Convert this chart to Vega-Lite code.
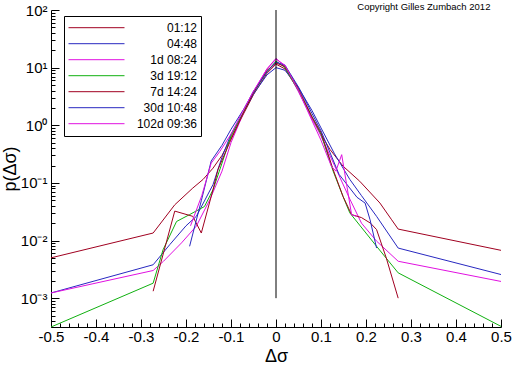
{
  "$schema": "https://vega.github.io/schema/vega-lite/v6.json",
  "width": 450,
  "height": 317,
  "autosize": "none",
  "padding": {"left": 51, "top": 10, "right": 11, "bottom": 39},
  "background": "white",
  "config": {
    "view": {"stroke": null},
    "font": "Liberation Sans",
    "axis": {"domainColor": "black", "tickColor": "black", "labelColor": "black", "titleColor": "black", "labelFont": "Liberation Sans", "titleFont": "Liberation Sans", "grid": false, "labelFontSize": 15, "titleFontWeight": "normal", "titleFontSize": 18, "labelFlush": false, "labelOverlap": false}
  },
  "title": {"text": "Copyright Gilles Zumbach 2012", "anchor": "end", "fontSize": 9.5, "fontWeight": "normal", "font": "Liberation Sans", "color": "black", "offset": -8.5, "dx": -21},
  "datasets": {
    "series": [
      {"s": "01:12", "x": -0.5, "p": 0.00501}, {"s": "01:12", "x": -0.273, "p": 0.0135}, {"s": "01:12", "x": -0.225, "p": 0.0417}, {"s": "01:12", "x": -0.185, "p": 0.0813}, {"s": "01:12", "x": -0.162, "p": 0.115}, {"s": "01:12", "x": -0.14, "p": 0.18}, {"s": "01:12", "x": -0.12, "p": 0.3}, {"s": "01:12", "x": -0.1, "p": 0.6}, {"s": "01:12", "x": -0.07, "p": 1.7}, {"s": "01:12", "x": -0.05, "p": 3.4}, {"s": "01:12", "x": -0.02, "p": 8.0}, {"s": "01:12", "x": 0, "p": 11.5}, {"s": "01:12", "x": 0.02, "p": 9.5}, {"s": "01:12", "x": 0.05, "p": 4.0}, {"s": "01:12", "x": 0.08, "p": 1.3}, {"s": "01:12", "x": 0.1, "p": 0.7}, {"s": "01:12", "x": 0.12, "p": 0.38}, {"s": "01:12", "x": 0.149, "p": 0.195}, {"s": "01:12", "x": 0.186, "p": 0.107}, {"s": "01:12", "x": 0.231, "p": 0.0447}, {"s": "01:12", "x": 0.257, "p": 0.0229}, {"s": "01:12", "x": 0.2715, "p": 0.0158}, {"s": "01:12", "x": 0.5, "p": 0.00676},
      {"s": "04:48", "x": -0.5, "p": 0.00123}, {"s": "04:48", "x": -0.273, "p": 0.0038}, {"s": "04:48", "x": -0.236, "p": 0.0085}, {"s": "04:48", "x": -0.2, "p": 0.018}, {"s": "04:48", "x": -0.177, "p": 0.0263}, {"s": "04:48", "x": -0.14, "p": 0.0933}, {"s": "04:48", "x": -0.12, "p": 0.28}, {"s": "04:48", "x": -0.1, "p": 0.7}, {"s": "04:48", "x": -0.07, "p": 1.8}, {"s": "04:48", "x": -0.05, "p": 3.5}, {"s": "04:48", "x": -0.02, "p": 7.5}, {"s": "04:48", "x": 0, "p": 10}, {"s": "04:48", "x": 0.02, "p": 9.0}, {"s": "04:48", "x": 0.05, "p": 4.5}, {"s": "04:48", "x": 0.08, "p": 1.8}, {"s": "04:48", "x": 0.1, "p": 0.9}, {"s": "04:48", "x": 0.13, "p": 0.32}, {"s": "04:48", "x": 0.164, "p": 0.115}, {"s": "04:48", "x": 0.19, "p": 0.06}, {"s": "04:48", "x": 0.2235, "p": 0.0263}, {"s": "04:48", "x": 0.2715, "p": 0.0074}, {"s": "04:48", "x": 0.5, "p": 0.00257},
      {"s": "1d 08:24", "x": -0.5, "p": 0.00123}, {"s": "1d 08:24", "x": -0.273, "p": 0.00302}, {"s": "1d 08:24", "x": -0.25, "p": 0.00437}, {"s": "1d 08:24", "x": -0.21, "p": 0.0091}, {"s": "1d 08:24", "x": -0.177, "p": 0.0178}, {"s": "1d 08:24", "x": -0.147, "p": 0.0513}, {"s": "1d 08:24", "x": -0.12, "p": 0.16}, {"s": "1d 08:24", "x": -0.1, "p": 0.5}, {"s": "1d 08:24", "x": -0.07, "p": 1.8}, {"s": "1d 08:24", "x": -0.05, "p": 3.8}, {"s": "1d 08:24", "x": -0.02, "p": 9.5}, {"s": "1d 08:24", "x": 0, "p": 14.5}, {"s": "1d 08:24", "x": 0.02, "p": 10.5}, {"s": "1d 08:24", "x": 0.05, "p": 3.8}, {"s": "1d 08:24", "x": 0.08, "p": 1.3}, {"s": "1d 08:24", "x": 0.1, "p": 0.65}, {"s": "1d 08:24", "x": 0.13, "p": 0.2}, {"s": "1d 08:24", "x": 0.164, "p": 0.0525}, {"s": "1d 08:24", "x": 0.19, "p": 0.02}, {"s": "1d 08:24", "x": 0.2235, "p": 0.00977}, {"s": "1d 08:24", "x": 0.2715, "p": 0.00437}, {"s": "1d 08:24", "x": 0.5, "p": 0.00195},
      {"s": "3d 19:12", "x": -0.5, "p": 0.000316}, {"s": "3d 19:12", "x": -0.273, "p": 0.00182}, {"s": "3d 19:12", "x": -0.251, "p": 0.00692}, {"s": "3d 19:12", "x": -0.221, "p": 0.0214}, {"s": "3d 19:12", "x": -0.192, "p": 0.0282}, {"s": "3d 19:12", "x": -0.159, "p": 0.0389}, {"s": "3d 19:12", "x": -0.14, "p": 0.0759}, {"s": "3d 19:12", "x": -0.12, "p": 0.22}, {"s": "3d 19:12", "x": -0.1, "p": 0.65}, {"s": "3d 19:12", "x": -0.07, "p": 1.8}, {"s": "3d 19:12", "x": -0.05, "p": 3.7}, {"s": "3d 19:12", "x": -0.02, "p": 8.5}, {"s": "3d 19:12", "x": 0, "p": 13}, {"s": "3d 19:12", "x": 0.02, "p": 10}, {"s": "3d 19:12", "x": 0.05, "p": 4.0}, {"s": "3d 19:12", "x": 0.08, "p": 1.4}, {"s": "3d 19:12", "x": 0.1, "p": 0.7}, {"s": "3d 19:12", "x": 0.127, "p": 0.16}, {"s": "3d 19:12", "x": 0.149, "p": 0.058}, {"s": "3d 19:12", "x": 0.164, "p": 0.0302}, {"s": "3d 19:12", "x": 0.2235, "p": 0.00794}, {"s": "3d 19:12", "x": 0.2715, "p": 0.00275}, {"s": "3d 19:12", "x": 0.5, "p": 0.000324},
      {"s": "7d 14:24", "x": -0.273, "p": 0.00132}, {"s": "7d 14:24", "x": -0.225, "p": 0.0324}, {"s": "7d 14:24", "x": -0.185, "p": 0.0263}, {"s": "7d 14:24", "x": -0.166, "p": 0.0135}, {"s": "7d 14:24", "x": -0.14, "p": 0.0759}, {"s": "7d 14:24", "x": -0.129, "p": 0.17}, {"s": "7d 14:24", "x": -0.103, "p": 0.5}, {"s": "7d 14:24", "x": -0.07, "p": 1.8}, {"s": "7d 14:24", "x": -0.05, "p": 3.7}, {"s": "7d 14:24", "x": -0.02, "p": 9}, {"s": "7d 14:24", "x": 0, "p": 12}, {"s": "7d 14:24", "x": 0.02, "p": 10.5}, {"s": "7d 14:24", "x": 0.05, "p": 4.3}, {"s": "7d 14:24", "x": 0.08, "p": 1.4}, {"s": "7d 14:24", "x": 0.1, "p": 0.75}, {"s": "7d 14:24", "x": 0.127, "p": 0.17}, {"s": "7d 14:24", "x": 0.149, "p": 0.058}, {"s": "7d 14:24", "x": 0.168, "p": 0.0282}, {"s": "7d 14:24", "x": 0.19, "p": 0.025}, {"s": "7d 14:24", "x": 0.21, "p": 0.02}, {"s": "7d 14:24", "x": 0.2235, "p": 0.0155}, {"s": "7d 14:24", "x": 0.245, "p": 0.005}, {"s": "7d 14:24", "x": 0.2715, "p": 0.001},
      {"s": "30d 10:48", "x": -0.192, "p": 0.00794}, {"s": "30d 10:48", "x": -0.166, "p": 0.049}, {"s": "30d 10:48", "x": -0.144, "p": 0.24}, {"s": "30d 10:48", "x": -0.12, "p": 0.45}, {"s": "30d 10:48", "x": -0.1, "p": 0.85}, {"s": "30d 10:48", "x": -0.07, "p": 2.0}, {"s": "30d 10:48", "x": -0.05, "p": 3.9}, {"s": "30d 10:48", "x": -0.02, "p": 8.5}, {"s": "30d 10:48", "x": 0, "p": 12.5}, {"s": "30d 10:48", "x": 0.02, "p": 11}, {"s": "30d 10:48", "x": 0.05, "p": 4.6}, {"s": "30d 10:48", "x": 0.08, "p": 1.6}, {"s": "30d 10:48", "x": 0.1, "p": 0.8}, {"s": "30d 10:48", "x": 0.14, "p": 0.141}, {"s": "30d 10:48", "x": 0.18, "p": 0.0562}, {"s": "30d 10:48", "x": 0.198, "p": 0.0447}, {"s": "30d 10:48", "x": 0.209, "p": 0.0229}, {"s": "30d 10:48", "x": 0.2235, "p": 0.00741},
      {"s": "102d 09:36", "x": -0.19, "p": 0.018}, {"s": "102d 09:36", "x": -0.165, "p": 0.06}, {"s": "102d 09:36", "x": -0.144, "p": 0.22}, {"s": "102d 09:36", "x": -0.125, "p": 0.35}, {"s": "102d 09:36", "x": -0.1, "p": 0.7}, {"s": "102d 09:36", "x": -0.07, "p": 2.0}, {"s": "102d 09:36", "x": -0.05, "p": 3.9}, {"s": "102d 09:36", "x": -0.02, "p": 9.5}, {"s": "102d 09:36", "x": 0, "p": 14}, {"s": "102d 09:36", "x": 0.02, "p": 11}, {"s": "102d 09:36", "x": 0.05, "p": 4.0}, {"s": "102d 09:36", "x": 0.08, "p": 1.2}, {"s": "102d 09:36", "x": 0.1, "p": 0.55}, {"s": "102d 09:36", "x": 0.123, "p": 0.195}, {"s": "102d 09:36", "x": 0.133, "p": 0.16}, {"s": "102d 09:36", "x": 0.146, "p": 0.309}, {"s": "102d 09:36", "x": 0.168, "p": 0.028}, {"s": "102d 09:36", "x": 0.179, "p": 0.0263}
    ],
    "vline": [{"x": 0, "y": 0.001, "y2": 100}]
  },
  "layer": [
    {
      "data": {"name": "series"},
      "mark": {"type": "line", "strokeWidth": 1, "clip": true},
      "encoding": {
        "x": {"field": "x", "type": "quantitative", "scale": {"domain": [-0.5, 0.5], "nice": false, "zero": false},
          "axis": {"title": "Δσ", "values": [-0.5, -0.4, -0.3, -0.2, -0.1, 0, 0.1, 0.2, 0.3, 0.4, 0.5], "labelExpr": "'' + datum.value", "tickSize": -8, "labelPadding": 10, "titlePadding": 3}},
        "y": {"field": "p", "type": "quantitative", "scale": {"type": "log", "domain": [0.000316, 100], "nice": false},
          "axis": {"title": "p(Δσ)", "values": [0.001, 0.01, 0.1, 1, 10, 100], "tickSize": -8, "labelPadding": 12, "titlePadding": 1,
            "labelExpr": "datum.value > 50 ? '10²' : datum.value > 5 ? '10¹' : datum.value > 0.5 ? '10⁰' : datum.value > 0.05 ? '10⁻¹' : datum.value > 0.005 ? '10⁻²' : '10⁻³'"}},
        "color": {"field": "s", "type": "nominal",
          "scale": {"domain": ["01:12", "04:48", "1d 08:24", "3d 19:12", "7d 14:24", "30d 10:48", "102d 09:36"], "range": ["#a00020", "#2828c0", "#e010e0", "#10b010", "#a00020", "#2828c0", "#e010e0"]},
          "legend": {"title": null, "orient": "none", "legendX": 13, "legendY": 6, "symbolType": "stroke", "symbolSize": 3136, "symbolStrokeWidth": 1, "clipHeight": 15.4, "rowPadding": 0, "labelAlign": "right", "labelOffset": 72, "labelFontSize": 12, "labelFont": "Liberation Sans", "labelColor": "black", "strokeColor": "black", "fillColor": "white", "padding": 4}}
      }
    },
    {
      "data": {"name": "vline"},
      "mark": {"type": "rule", "color": "black", "strokeWidth": 1},
      "encoding": {
        "x": {"field": "x", "type": "quantitative",
          "axis": {"orient": "bottom", "title": null, "labels": false, "domain": false, "tickSize": -4,
            "values": [-0.48, -0.46, -0.44, -0.42, -0.38, -0.36, -0.34, -0.32, -0.28, -0.26, -0.24, -0.22, -0.18, -0.16, -0.14, -0.12, -0.08, -0.06, -0.04, -0.02, 0.02, 0.04, 0.06, 0.08, 0.12, 0.14, 0.16, 0.18, 0.22, 0.24, 0.26, 0.28, 0.32, 0.34, 0.36, 0.38, 0.42, 0.44, 0.46, 0.48]}},
        "y": {"field": "y", "type": "quantitative",
          "axis": {"orient": "left", "title": null, "labels": false, "domain": false, "tickSize": -4,
            "values": [0.0004, 0.0005, 0.0006, 0.0007, 0.0008, 0.0009, 0.002, 0.003, 0.004, 0.005, 0.006, 0.007, 0.008, 0.009, 0.02, 0.03, 0.04, 0.05, 0.06, 0.07, 0.08, 0.09, 0.2, 0.3, 0.4, 0.5, 0.6, 0.7, 0.8, 0.9, 2, 3, 4, 5, 6, 7, 8, 9, 20, 30, 40, 50, 60, 70, 80, 90]}},
        "y2": {"field": "y2"}
      }
    }
  ],
  "resolve": {"axis": {"x": "independent", "y": "independent"}}
}
